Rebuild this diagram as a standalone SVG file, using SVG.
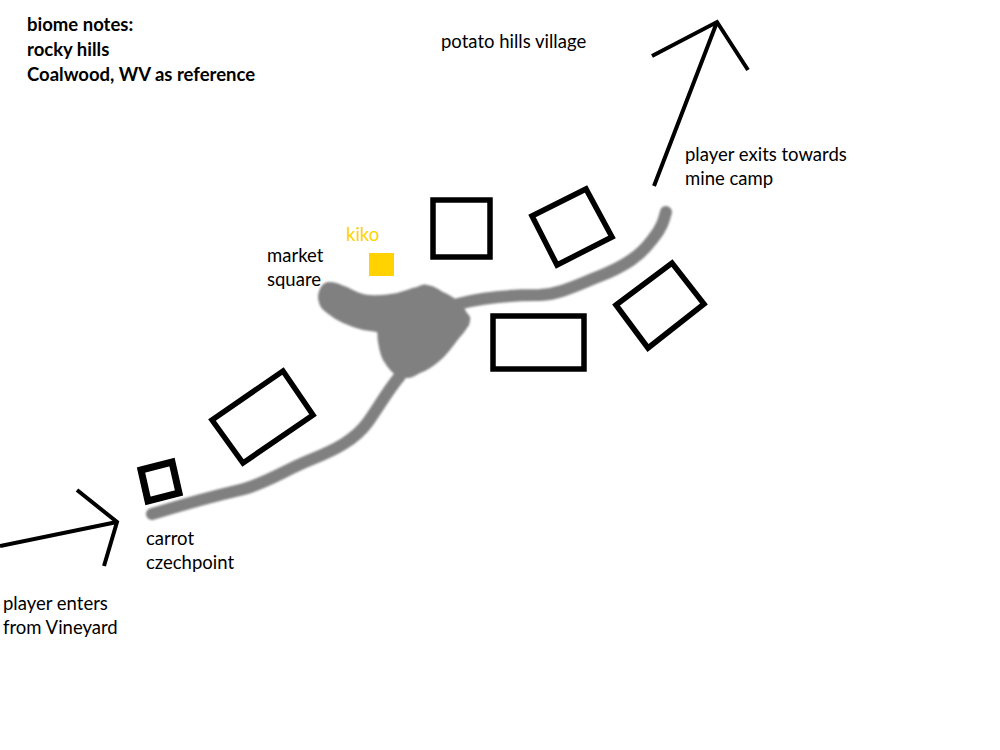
<svg xmlns="http://www.w3.org/2000/svg" width="1000" height="750" viewBox="0 0 1000 750">
<defs>
<style>
text{font-family:Lato,"Open Sans","Liberation Sans",sans-serif;font-size:18.5px;fill:#000}
.b{font-weight:bold}
.y{fill:#FFD200}
.bld{fill:none;stroke:#000;stroke-width:5.5;stroke-linejoin:miter}
.road{fill:none;stroke:#808080;stroke-width:12;stroke-linecap:round;stroke-linejoin:round}
.arr{fill:none;stroke:#000;stroke-width:4;stroke-linecap:butt}
</style>
<filter id="soft" x="-10%" y="-10%" width="120%" height="120%"><feGaussianBlur stdDeviation="1.2"/></filter>
</defs>
<rect width="1000" height="750" fill="#fff"/>
<g id="notes">
<text class="b" x="27" y="31">biome notes:</text>
<text class="b" x="27" y="56">rocky hills</text>
<text class="b" x="27" y="81">Coalwood, WV as reference</text>
</g>
<g id="title"><text x="441" y="48">potato hills village</text></g>
<g id="roads" filter="url(#soft)">
<path class="road" d="M152,514 C175,507 210,497 240,490 C265,484 285,470 310,460 C335,450 355,440 368,422 C380,405 388,390 400,376"/>
<path class="road" d="M458,304 C480,298 505,295 540,295 C560,294 575,286 600,276 C625,266 640,256 652,240 C662,228 664,220 666,212"/>
<path fill="#808080" d="M318,298 C318,288 324,281 330,282 C336,282 341,285 347,287 C355,291 362,295 370,295 C380,296 390,294 397,293 C405,291 411,288 417,287 C421,285 424,284 427,285 C434,286 438,289 443,292 C449,295 453,297 457,300 C462,305 465,309 467,313 C470,316 471,318 470,320 C470,323 469,326 467,328 C465,331 463,334 460,337 C456,342 453,346 450,350 C446,355 442,359 437,363 C432,367 426,371 420,373 C415,376 411,378 407,378 C401,377 397,376 393,373 C389,369 386,365 383,360 C380,354 379,348 378,342 C377,338 378,334 377,332 C372,331 368,331 363,330 C356,328 350,326 343,323 C337,320 332,317 327,313 C323,310 320,307 319,303 Z"/>
</g>
<g id="kiko">
<text class="y" x="346" y="241">kiko</text>
<rect x="369" y="253" width="25" height="23" fill="#FFD200"/>
</g>
<g id="market"><text x="267" y="262">market</text><text x="267" y="286">square</text></g>
<g id="checkpoint-building"><polygon class="bld" style="stroke-width:7" points="141,470 172,462 179,493 148,501"/></g>
<g id="building-2"><polygon class="bld" points="212,420 283,371 313,415 243,463"/></g>
<g id="building-3"><rect class="bld" x="433" y="200" width="57" height="57"/></g>
<g id="building-4"><polygon class="bld" points="532,216 586,189 612,237 557,265"/></g>
<g id="building-5"><rect class="bld" x="493" y="316" width="91" height="53"/></g>
<g id="building-6"><polygon class="bld" points="616,305 672,263 704,304 648,348"/></g>
<g id="carrot"><text x="146" y="545">carrot</text><text x="146" y="569">czechpoint</text></g>
<g id="enter"><text x="3" y="610">player enters</text><text x="3" y="634">from Vineyard</text></g>
<g id="exit"><text x="685" y="161">player exits towards</text><text x="685" y="185">mine camp</text></g>
<g id="connectors">
<path class="arr" d="M0,546 L117,522 M77,490 L117,522 L104,566"/>
<path class="arr" d="M654,186 L717,22 M652,56 L717,22 L748,70"/>
</g>
</svg>
